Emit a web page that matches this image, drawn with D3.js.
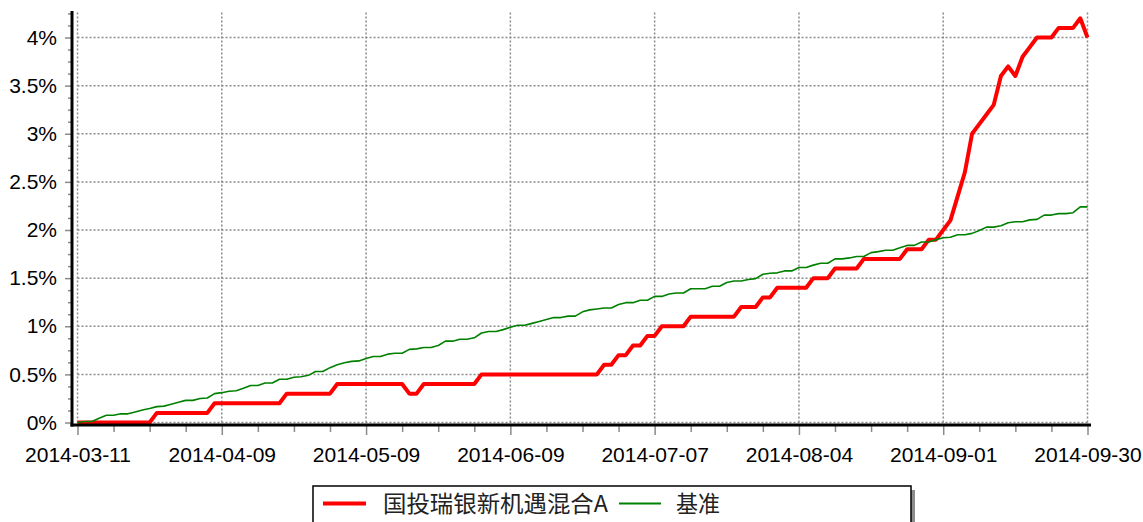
<!DOCTYPE html>
<html>
<head>
<meta charset="utf-8">
<script src="https://cdn.jsdelivr.net/npm/d3@7"></script>
<style>
html,body{margin:0;padding:0;background:#fff;}
svg{display:block;}
</style>
</head>
<body>
<svg id="chart" width="1143" height="522"></svg>
<script>
// ---- data ----
const seriesNames = ["国投瑞银新机遇混合A", "基准"];
const xTickLabels = ["2014-03-11","2014-04-09","2014-05-09","2014-06-09","2014-07-07","2014-08-04","2014-09-01","2014-09-30"];
const xTickIndex = [0,20,40,60,80,100,120,140];
const yTickValues = [0,0.5,1,1.5,2,2.5,3,3.5,4];
const yTickLabels = ["0%","0.5%","1%","1.5%","2%","2.5%","3%","3.5%","4%"];

// fund cumulative return (%), one value per trading day
const fundValues = [
  0,0,0,0,0,0,0,0,0,0,0,
  0.1,0.1,0.1,0.1,0.1,0.1,0.1,0.1,
  0.2,0.2,0.2,0.2,0.2,0.2,0.2,0.2,0.2,0.2,
  0.3,0.3,0.3,0.3,0.3,0.3,0.3,
  0.4,0.4,0.4,0.4,0.4,0.4,0.4,0.4,0.4,0.4,
  0.3,0.3,
  0.4,0.4,0.4,0.4,0.4,0.4,0.4,0.4,
  0.5,0.5,0.5,0.5,0.5,0.5,0.5,0.5,0.5,0.5,0.5,0.5,0.5,0.5,0.5,0.5,0.5,
  0.6,0.6,0.7,0.7,0.8,0.8,0.9,0.9,
  1.0,1.0,1.0,1.0,
  1.1,1.1,1.1,1.1,1.1,1.1,1.1,
  1.2,1.2,1.2,
  1.3,1.3,
  1.4,1.4,1.4,1.4,1.4,
  1.5,1.5,1.5,
  1.6,1.6,1.6,1.6,
  1.7,1.7,1.7,1.7,1.7,1.7,
  1.8,1.8,1.8,
  1.9,1.9,
  2.0,2.1,2.35,2.6,3.0,3.1,3.2,3.3,3.6,3.7,3.6,3.8,3.9,
  4.0,4.0,4.0,4.1,4.1,4.1,4.2,4.0
];

// benchmark cumulative return (%), one value per trading day
const benchValues = [
  0,0.01,0.01,0.045,0.075,0.075,0.09,0.09,0.11,0.13,
  0.145,0.165,0.17,0.19,0.21,0.23,0.23,0.25,0.255,0.30,
  0.31,0.325,0.33,0.355,0.385,0.385,0.41,0.41,0.45,0.45,
  0.47,0.475,0.49,0.53,0.53,0.57,0.60,0.62,0.635,0.64,
  0.665,0.685,0.685,0.71,0.72,0.72,0.76,0.765,0.78,0.78,
  0.80,0.845,0.845,0.865,0.865,0.88,0.93,0.945,0.945,0.965,
  0.99,1.01,1.01,1.03,1.05,1.07,1.09,1.09,1.105,1.105,
  1.15,1.17,1.18,1.19,1.19,1.225,1.245,1.245,1.27,1.27,
  1.31,1.31,1.335,1.345,1.345,1.39,1.39,1.39,1.415,1.415,
  1.455,1.47,1.47,1.485,1.495,1.54,1.55,1.555,1.575,1.575,
  1.61,1.61,1.635,1.655,1.655,1.70,1.70,1.71,1.725,1.725,
  1.765,1.775,1.79,1.79,1.815,1.84,1.84,1.875,1.875,1.90,
  1.92,1.925,1.95,1.95,1.965,1.995,2.03,2.03,2.045,2.075,
  2.085,2.085,2.105,2.11,2.155,2.155,2.17,2.17,2.18,2.24,
  2.24
];

const seriesColors = ["#ff0000", "#008000"];

// ---- layout ----
const svg = d3.select("#chart");
const plotLeft = 77.5, plotRight = 1087.5, plotTop = 12.5, plotBottom = 422.5;
const x = d3.scaleLinear().domain([0, fundValues.length - 1]).range([plotLeft, plotRight]);
const y = d3.scaleLinear().domain([0, 4]).range([422.5, 37.5]);

const gridColor = "#8a8a8a";
const tickColor = "#8a8a8a";
const font = "'Liberation Sans', Arial, sans-serif";

// gridlines
const grid = svg.append("g");
grid.selectAll("line.h").data(yTickValues).join("line")
  .attr("x1", plotLeft).attr("x2", plotRight)
  .attr("y1", d => y(d)).attr("y2", d => y(d))
  .attr("stroke", gridColor).attr("stroke-width", 1.5).attr("stroke-dasharray", "2,2");
grid.selectAll("line.v").data(xTickIndex).join("line")
  .attr("x1", d => x(d)).attr("x2", d => x(d))
  .attr("y1", plotTop).attr("y2", plotBottom)
  .attr("stroke", gridColor).attr("stroke-width", 1.5).attr("stroke-dasharray", "2,2");

// x axis (major + minor)
const minorX = d3.range(0, fundValues.length, 5).filter(d => !xTickIndex.includes(d));
const xAxisMinor = svg.append("g").attr("transform", "translate(0,425)")
  .call(d3.axisBottom(x).tickValues(minorX).tickSize(7).tickFormat(""));
const xAxis = svg.append("g").attr("transform", "translate(0,425)")
  .call(d3.axisBottom(x).tickValues(xTickIndex).tickSize(10).tickPadding(12)
    .tickFormat((d, i) => xTickLabels[i]));
[xAxis, xAxisMinor].forEach(g => {
  g.select(".domain").remove();
  g.selectAll(".tick line").attr("stroke", tickColor).attr("stroke-width", 1.5);
});
xAxis.selectAll(".tick text").attr("fill", "#000").style("font-family", font).style("font-size", "21px");

// y axis (major + minor)
const minorY = d3.range(0, 4.26, 0.125).filter(d => !yTickValues.includes(d));
const yAxisMinor = svg.append("g").attr("transform", "translate(72,0)")
  .call(d3.axisLeft(y).tickValues(minorY).tickSize(4).tickFormat(""));
const yAxis = svg.append("g").attr("transform", "translate(72,0)")
  .call(d3.axisLeft(y).tickValues(yTickValues).tickSize(7).tickPadding(8)
    .tickFormat((d, i) => yTickLabels[i]));
[yAxis, yAxisMinor].forEach(g => {
  g.select(".domain").remove();
  g.selectAll(".tick line").attr("stroke", tickColor).attr("stroke-width", 1.5);
});
yAxis.selectAll(".tick text").attr("fill", "#000").style("font-family", font).style("font-size", "21px");

// series lines
const line = d3.line().x((d, i) => x(i)).y(d => y(d));
svg.append("path").datum(fundValues)
  .attr("d", line).attr("fill", "none")
  .attr("stroke", seriesColors[0]).attr("stroke-width", 4)
  .attr("stroke-linejoin", "round");
svg.append("path").datum(benchValues)
  .attr("d", line).attr("fill", "none")
  .attr("stroke", seriesColors[1]).attr("stroke-width", 1.6)
  .attr("stroke-linejoin", "round");

// heavy black axis lines
svg.append("line").attr("x1", 72).attr("x2", 72).attr("y1", 11).attr("y2", 426.5)
  .attr("stroke", "#000").attr("stroke-width", 3);
svg.append("line").attr("x1", 70.5).attr("x2", 1091).attr("y1", 425).attr("y2", 425)
  .attr("stroke", "#000").attr("stroke-width", 3);

// legend
const lg = svg.append("g");
lg.append("rect").attr("x", 317).attr("y", 490).attr("width", 598).attr("height", 40).attr("fill", "#8c8c8c");
lg.append("rect").attr("x", 313).attr("y", 486).attr("width", 598).attr("height", 40)
  .attr("fill", "#fff").attr("stroke", "#000").attr("stroke-width", 1.5);
const legendItems = [
  {name: seriesNames[0], color: seriesColors[0], w: 4, x0: 323, x1: 366, tx: 383, len: 225},
  {name: seriesNames[1], color: seriesColors[1], w: 2, x0: 619, x1: 661, tx: 676, len: 44}
];
legendItems.forEach(it => {
  lg.append("line").attr("x1", it.x0).attr("x2", it.x1).attr("y1", 503.5).attr("y2", 503.5)
    .attr("stroke", it.color).attr("stroke-width", it.w);
  lg.append("text").attr("x", it.tx).attr("y", 503.5).attr("dy", "0.36em")
    .attr("fill", "#222")
    .attr("textLength", it.len).attr("lengthAdjust", "spacingAndGlyphs")
    .style("font-family", "'Noto Sans CJK SC', sans-serif").style("font-size", "23px")
    .text(it.name);
});
</script>
</body>
</html>
